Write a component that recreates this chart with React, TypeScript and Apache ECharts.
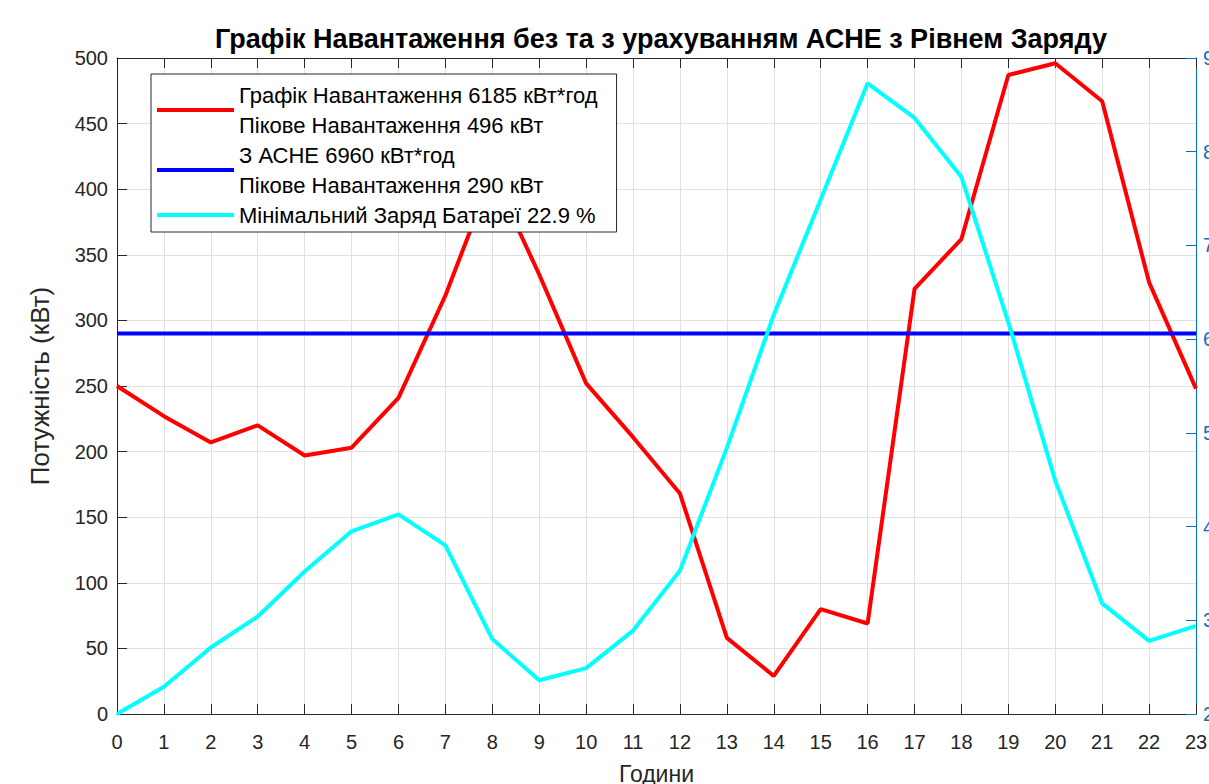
import React, { useEffect, useRef } from "react";
import * as echarts from "echarts";

const hours = ["0","1","2","3","4","5","6","7","8","9","10","11","12","13","14","15","16","17","18","19","20","21","22","23"];
const loadKW = [250, 227, 207, 220, 197, 203, 241, 319, 412, 335, 252, 211, 168, 58, 29, 80, 69, 324, 362, 487, 496, 467, 329, 248];
const withBessKW = [290, 290, 290, 290, 290, 290, 290, 290, 290, 290, 290, 290, 290, 290, 290, 290, 290, 290, 290, 290, 290, 290, 290, 290];
const chargePct = [20.0, 22.9, 27.1, 30.4, 35.2, 39.5, 41.3, 38.0, 28.0, 23.6, 24.9, 28.9, 35.3, 48.4, 62.6, 74.9, 87.3, 83.6, 77.3, 61.8, 44.9, 31.8, 27.8, 29.4];

const seriesNames = [
  "Графік Навантаження 6185 кВт*год\nПікове Навантаження 496 кВт",
  "З АСНЕ 6960 кВт*год\nПікове Навантаження 290 кВт",
  "Мінімальний Заряд Батареї 22.9 %",
];
const titleText = "Графік Навантаження без та з урахуванням АСНЕ з Рівнем Заряду";

const FONT = "'Liberation Sans', Arial, sans-serif";
const AX = "#262626";
const GRID = "#e0e0e0";
const RIGHT = "#0072BD";

export default function App() {
  const ref = useRef<HTMLDivElement>(null);
  useEffect(() => {
    document.body.style.margin = "0";
    const chart = echarts.init(ref.current as HTMLDivElement, undefined, { renderer: "svg" });
    chart.setOption({
      animation: false,
      backgroundColor: "#ffffff",
      title: {
        text: titleText,
        left: 656,
        textAlign: "center",
        top: 20,
        textStyle: { fontFamily: FONT, fontSize: 27, fontWeight: "bold", color: "#000" },
      },
      grid: { left: 117, right: 13, top: 58, bottom: 70, containLabel: false, outerBoundsMode: "none" },
      legend: {
        orient: "vertical",
        left: 151,
        top: 74,
        padding: [6, 19, 2, 6],
        itemGap: 0,
        itemWidth: 77,
        itemHeight: 4,
        icon: "rect",
        backgroundColor: "#ffffff",
        borderColor: AX,
        borderWidth: 1,
        borderRadius: 0,
        selectedMode: false,
        textStyle: { fontFamily: FONT, fontSize: 22, lineHeight: 30, color: "#000" },
        data: seriesNames,
      },
      xAxis: [
        {
          type: "category",
          data: hours,
          boundaryGap: false,
          position: "bottom",
          axisLine: { show: true, lineStyle: { color: AX, width: 1 } },
          axisTick: { show: true, inside: true, length: 10, interval: 0, lineStyle: { color: AX } },
          axisLabel: { interval: 0, fontFamily: FONT, fontSize: 20, color: AX, margin: 18 },
          splitLine: { show: true, interval: 0, lineStyle: { color: GRID, width: 1 } },
          name: "Години",
          nameLocation: "middle",
          nameGap: 48,
          nameTextStyle: { fontFamily: FONT, fontSize: 23, color: AX },
        },
        {
          type: "category",
          data: hours,
          boundaryGap: false,
          position: "top",
          axisLine: { show: true, lineStyle: { color: AX, width: 1 } },
          axisTick: { show: true, inside: true, length: 10, interval: 0, lineStyle: { color: AX } },
          axisLabel: { show: false },
          splitLine: { show: false },
        },
      ],
      yAxis: [
        {
          type: "value",
          min: 0,
          max: 500,
          interval: 50,
          position: "left",
          axisLine: { show: true, lineStyle: { color: AX, width: 1 } },
          axisTick: { show: true, inside: true, length: 10, lineStyle: { color: AX } },
          axisLabel: { fontFamily: FONT, fontSize: 20, color: AX, margin: 9 },
          splitLine: { show: true, lineStyle: { color: GRID, width: 1 } },
          name: "Потужність (кВт)",
          nameLocation: "middle",
          nameGap: 64,
          nameRotate: 90,
          nameTextStyle: { fontFamily: FONT, fontSize: 26, color: AX },
        },
        {
          type: "value",
          min: 20,
          max: 90,
          interval: 10,
          position: "right",
          axisLine: { show: true, lineStyle: { color: RIGHT, width: 1 } },
          axisTick: { show: true, inside: true, length: 10, lineStyle: { color: RIGHT } },
          axisLabel: { fontFamily: FONT, fontSize: 20, color: RIGHT, margin: 7 },
          splitLine: { show: false },
        },
      ],
      series: [
        {
          name: seriesNames[0],
          type: "line",
          data: loadKW,
          xAxisIndex: 0,
          yAxisIndex: 0,
          showSymbol: false,
          color: "#ff0000",
          lineStyle: { color: "#ff0000", width: 4 },
          itemStyle: { color: "#ff0000" },
        },
        {
          name: seriesNames[1],
          type: "line",
          data: withBessKW,
          xAxisIndex: 0,
          yAxisIndex: 0,
          showSymbol: false,
          color: "#0000ff",
          lineStyle: { color: "#0000ff", width: 4 },
          itemStyle: { color: "#0000ff" },
        },
        {
          name: seriesNames[2],
          type: "line",
          data: chargePct,
          xAxisIndex: 0,
          yAxisIndex: 1,
          showSymbol: false,
          color: "#00ffff",
          lineStyle: { color: "#00ffff", width: 4 },
          itemStyle: { color: "#00ffff" },
        },
      ],
    });
    return () => chart.dispose();
  }, []);
  return <div ref={ref} style={{ width: 1209, height: 784 }} />;
}
